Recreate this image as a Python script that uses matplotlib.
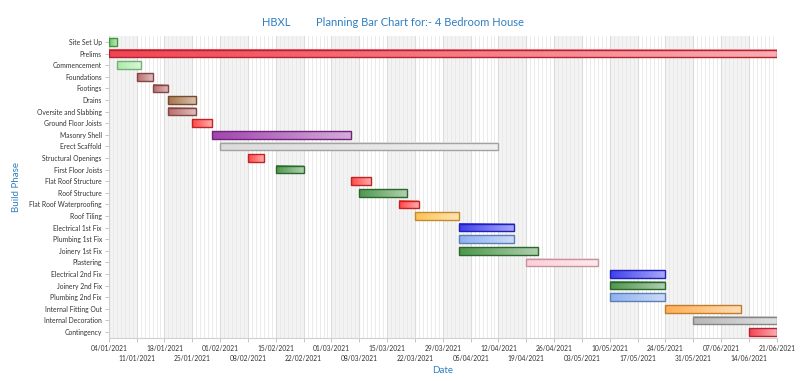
import matplotlib
matplotlib.use("Agg")
import matplotlib.pyplot as plt
import matplotlib.dates as mdates
import matplotlib.colors as mcolors
import numpy as np

phases = ["Site Set Up", "Prelims", "Commencement", "Foundations", "Footings", "Drains",
          "Oversite and Slabbing", "Ground Floor Joists", "Masonry Shell", "Erect Scaffold",
          "Structural Openings", "First Floor Joists", "Flat Roof Structure", "Roof Structure",
          "Flat Roof Waterproofing", "Roof Tiling", "Electrical 1st Fix", "Plumbing 1st Fix",
          "Joinery 1st Fix", "Plastering", "Electrical 2nd Fix", "Joinery 2nd Fix",
          "Plumbing 2nd Fix", "Internal Fitting Out", "Internal Decoration", "Contingency"]

start_dates = ["2021-01-04", "2021-01-04", "2021-01-06", "2021-01-11", "2021-01-15", "2021-01-19",
               "2021-01-19", "2021-01-25", "2021-01-30", "2021-02-01", "2021-02-08", "2021-02-15",
               "2021-03-06", "2021-03-08", "2021-03-18", "2021-03-22", "2021-04-02", "2021-04-02",
               "2021-04-02", "2021-04-19", "2021-05-10", "2021-05-10", "2021-05-10", "2021-05-24",
               "2021-05-31", "2021-06-14"]

end_dates = ["2021-01-06", "2021-06-21", "2021-01-12", "2021-01-15", "2021-01-19", "2021-01-26",
             "2021-01-26", "2021-01-30", "2021-03-06", "2021-04-12", "2021-02-12", "2021-02-22",
             "2021-03-11", "2021-03-20", "2021-03-23", "2021-04-02", "2021-04-16", "2021-04-16",
             "2021-04-22", "2021-05-07", "2021-05-24", "2021-05-24", "2021-05-24", "2021-06-12",
             "2021-06-21", "2021-06-21"]

phase_colors = ["#55c455", "#f03040", "#a0e8a0", "#b05c5c", "#b05c5c", "#9c6438",
                "#b05c5c", "#ff3030", "#9630a4", "#d8d8d8", "#ff3030", "#3a8a3a",
                "#ff3030", "#3a8a3a", "#ff3030", "#ffbb40", "#2a2aee", "#80a8f0",
                "#3a8a3a", "#ffc8d4", "#2a2aee", "#3a8a3a", "#80a8f0", "#ffa640",
                "#b0b0b0", "#f03040"]

tick_labels = ["04/01/2021", "11/01/2021", "18/01/2021", "25/01/2021", "01/02/2021", "08/02/2021",
               "15/02/2021", "22/02/2021", "01/03/2021", "08/03/2021", "15/03/2021", "22/03/2021",
               "29/03/2021", "05/04/2021", "12/04/2021", "19/04/2021", "26/04/2021", "03/05/2021",
               "10/05/2021", "17/05/2021", "24/05/2021", "31/05/2021", "07/06/2021", "14/06/2021",
               "21/06/2021"]

plt.rcParams["font.family"] = ["Lato", "DejaVu Sans"]
blue = "#2f7fc1"
fig = plt.figure(figsize=(8.0, 3.81), dpi=100)
ax = fig.add_axes([0.136, 0.1134, 0.835, 0.7916])

def d2n(s):
    return mdates.datestr2num(s)

tick_pos = [mdates.datestr2num("-".join(reversed(t.split("/")))) for t in tick_labels]
x0, x1 = tick_pos[0], tick_pos[-1]

# background bands (weekly) and daily lines
for i in range(len(tick_pos) - 1):
    if i % 2 == 0:
        ax.axvspan(tick_pos[i], tick_pos[i + 1], color="#f3f3f3", zorder=0, lw=0)
for d in np.arange(x0, x1 + 1, 1.0):
    ax.axvline(d, color="#e8e8e8", lw=0.6, zorder=1)
for t in tick_pos:
    ax.axvline(t, color="#dcdcdc", lw=0.8, zorder=1)

h = 0.66
white = np.array([1, 1, 1])
for i, (s, e, c) in enumerate(zip(start_dates, end_dates, phase_colors)):
    a, b = d2n(s), d2n(e)
    base = np.array(mcolors.to_rgb(c))
    left = base * 0.9 + white * 0.1
    right = base * 0.4 + white * 0.6
    t = np.linspace(0, 1, 256)[:, None]
    grad = (left[None, :] * (1 - t) + right[None, :] * t)[None, :, :]
    ax.imshow(grad, extent=[a, b, i + h / 2, i - h / 2], aspect="auto", zorder=3,
              interpolation="bilinear")
    edge = base * 0.75
    ax.barh(i, b - a, left=a, height=h, fill=False, edgecolor=edge, lw=1.0, zorder=4)

ax.set_xlim(x0, x1)
ax.set_ylim(len(phases) - 0.5, -0.5)
ax.set_yticks(range(len(phases)))
ax.set_yticklabels(phases, fontsize=4.9, color="#333333")
ax.set_xticks(tick_pos[0::2])
ax.set_xticklabels(tick_labels[0::2], fontsize=4.8, color="#333333")
ax.set_xticks(tick_pos[1::2], minor=True)
ax.set_xticklabels(tick_labels[1::2], minor=True, fontsize=4.8, color="#333333")
ax.tick_params(axis="both", which="both", length=3, color="#bbbbbb", width=0.6, pad=2)
ax.tick_params(axis="x", which="minor", pad=9.5)
for sp in ["top", "right"]:
    ax.spines[sp].set_visible(False)
for sp in ["left", "bottom"]:
    ax.spines[sp].set_color("#d0d0d0")

ax.set_ylabel("Build Phase", color=blue, fontsize=7)
ax.yaxis.set_label_coords(-0.132, 0.5)
ax.set_xlabel("Date", color=blue, fontsize=7)
ax.xaxis.set_label_coords(0.5, -0.092)
fig.text(262 / 800, 0.942, "HBXL", color=blue, fontsize=8, ha="left", va="center")
fig.text(316 / 800, 0.942, "Planning Bar Chart for:- 4 Bedroom House", color=blue, fontsize=8,
         ha="left", va="center")

fig.savefig("out.png", dpi=100)
